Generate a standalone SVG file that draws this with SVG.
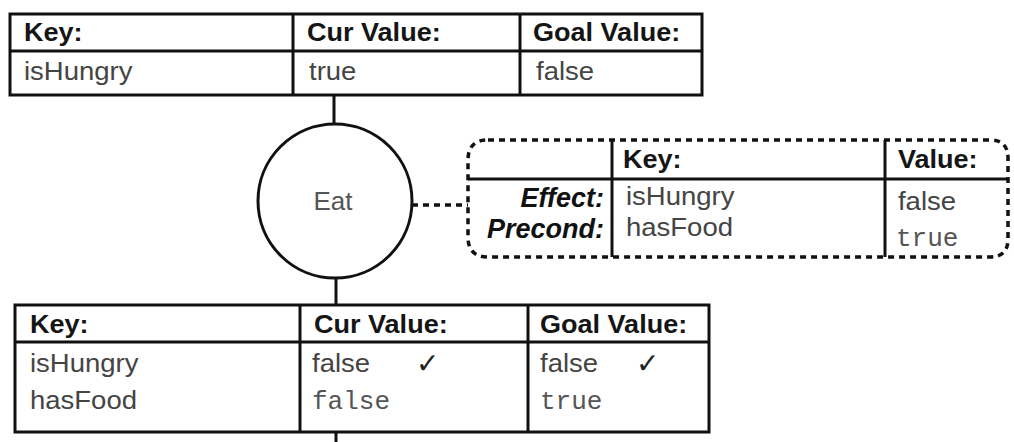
<svg xmlns="http://www.w3.org/2000/svg" width="1014" height="442" viewBox="0 0 1014 442">
  <style>
    .frame { fill: #ffffff; stroke: #111111; stroke-width: 3; }
    .rule { stroke: #111111; stroke-width: 3; fill: none; }
    .dash { stroke: #111111; stroke-width: 3.5; fill: none; stroke-dasharray: 6 5; }
    text { font-family: "Liberation Sans", Arial, sans-serif; }
    .hd { font-size: 26px; font-weight: bold; fill: #151515; transform-box: fill-box; transform-origin: 0 0; transform: scaleX(1.04); }
    .tx { font-size: 25px; fill: #444444; transform-box: fill-box; transform-origin: 0 0; transform: scaleX(1.1); }
    .mono { font-family: "Liberation Mono", "Courier New", monospace; font-size: 26px; fill: #555555; }
    .lbl { font-size: 27px; font-weight: bold; font-style: italic; fill: #111111; text-anchor: end; }
    .chk { font-family: "DejaVu Sans", sans-serif; font-size: 28px; fill: #222222; }
    .name { font-size: 26px; fill: #555555; text-anchor: middle; }
  </style>

  <rect width="1014" height="442" fill="#ffffff"/>

  <!-- connectors -->
  <g id="connectors">
    <line class="rule" x1="334" y1="95" x2="334" y2="125"/>
    <line class="rule" x1="336" y1="277" x2="336" y2="305"/>
    <line class="rule" x1="336" y1="432" x2="336" y2="442"/>
    <line class="dash" x1="412" y1="205" x2="468" y2="205"/>
  </g>

  <!-- goal state before the action -->
  <g id="state-top">
    <rect class="frame" x="10" y="14" width="692" height="81"/>
    <line class="rule" x1="10" y1="51" x2="702" y2="51"/>
    <line class="rule" x1="293" y1="14" x2="293" y2="95"/>
    <line class="rule" x1="520" y1="14" x2="520" y2="95"/>
    <text class="hd" x="24" y="41">Key:</text>
    <text class="hd" x="307" y="41">Cur Value:</text>
    <text class="hd" x="533" y="41">Goal Value:</text>
    <text class="tx" x="24" y="80">isHungry</text>
    <text class="tx" x="309" y="80">true</text>
    <text class="tx" x="536" y="80">false</text>
  </g>

  <!-- action node -->
  <g id="action-eat">
    <circle class="frame" cx="335" cy="201" r="77"/>
    <text class="name" x="333" y="210">Eat</text>
  </g>

  <!-- effect / precondition table of the action -->
  <g id="action-detail">
    <path class="dash" d="M488,140 H990 Q1008,140 1008,158 V239 Q1008,257 990,257 H488 Q468,257 468,237 V160 Q468,140 488,140 Z"/>
    <line class="rule" x1="468" y1="179" x2="1008" y2="179"/>
    <line class="rule" x1="612" y1="140" x2="612" y2="257"/>
    <line class="rule" x1="885" y1="140" x2="885" y2="257"/>
    <text class="hd" x="623" y="168">Key:</text>
    <text class="hd" x="898" y="168">Value:</text>
    <text class="lbl" x="604" y="207">Effect:</text>
    <text class="lbl" x="604" y="238">Precond:</text>
    <text class="tx" x="626" y="205">isHungry</text>
    <text class="tx" x="626" y="236">hasFood</text>
    <text class="tx" x="898" y="210">false</text>
    <text class="mono" x="896" y="246">true</text>
  </g>

  <!-- goal state after the action -->
  <g id="state-bottom">
    <rect class="frame" x="15" y="305" width="694" height="127"/>
    <line class="rule" x1="15" y1="342" x2="709" y2="342"/>
    <line class="rule" x1="300" y1="305" x2="300" y2="432"/>
    <line class="rule" x1="528" y1="305" x2="528" y2="432"/>
    <text class="hd" x="30" y="333">Key:</text>
    <text class="hd" x="314" y="333">Cur Value:</text>
    <text class="hd" x="540" y="333">Goal Value:</text>
    <text class="tx" x="30" y="372">isHungry</text>
    <text class="tx" x="30" y="409">hasFood</text>
    <text class="tx" x="312" y="372">false</text>
    <text class="chk" x="416" y="373">✓</text>
    <text class="mono" x="312" y="409">false</text>
    <text class="tx" x="540" y="372">false</text>
    <text class="chk" x="636" y="373">✓</text>
    <text class="mono" x="540" y="409">true</text>
  </g>
</svg>
